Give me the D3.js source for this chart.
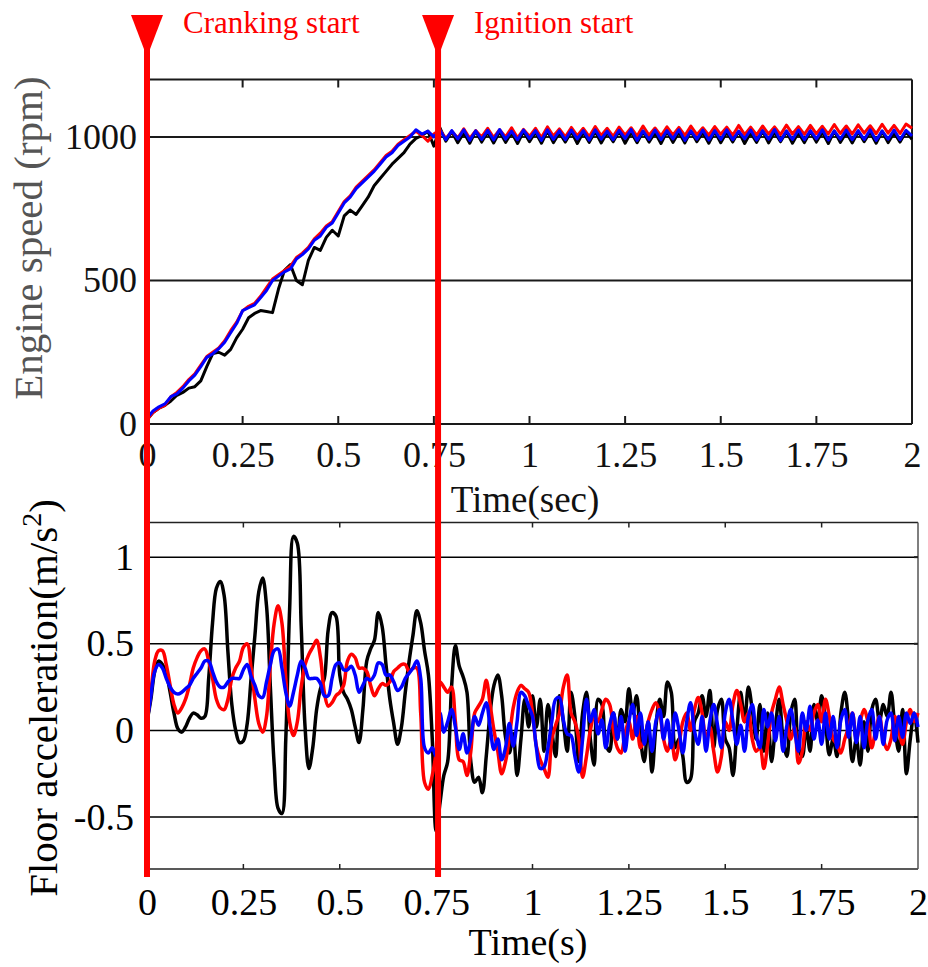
<!DOCTYPE html>
<html>
<head>
<meta charset="utf-8">
<script src="https://cdn.jsdelivr.net/npm/d3@7"></script>
<style>
  body { margin: 0; background: #fff; }
  svg { display: block; }
  svg text { font-family: "Liberation Serif", Tinos, "Times New Roman", Times, "DejaVu Serif", serif !important; }
</style>
</head>
<body>
<svg id="chart" width="928" height="967"></svg>
<script>
// ---------- data ----------
// Engine speed (rpm), sampled every 1/64 s from 0 to 2 s
const speedStep = 1 / 64;
const speedBlack = [
  15,40,55,65,80,100,110,125,130,150,
  200,245,250,240,260,300,330,370,385,395,
  392,388,470,535,555,500,485,570,615,605,
  650,675,655,725,745,730,760,790,830,855,
  880,905,925,945,975,995,1005,1020,968,
  1032,985,1018,980,1015,978,1020,982,1016,979,
  1018,981,1015,977,1019,983,1016,978,1020,980,
  1015,982,1018,977,1016,981,1019,979,1015,983,
  1020,978,1016,980,1018,982,1015,977,1019,981,
  1016,979,1020,983,1015,978,1018,980,1016,982,
  1019,977,1015,981,1020,979,1016,983,1018,978,
  1015,980,1019,982,1016,977,1020,981,1015,979,
  1018,983,1016,978,1019,980,1015,982,1018,992
];
const speedRed = [
  15,40,55,65,95,110,130,155,175,205,
  235,250,265,290,325,355,395,410,420,445,
  475,505,520,535,550,580,595,615,645,665,
  690,705,740,775,795,825,845,865,885,910,
  935,950,975,990,1005,1020,1005,985,1010,
  1025,995,1020,996,1028,995,1022,1000,1030,998,
  1025,1000,1032,997,1026,1002,1030,998,1035,1003,
  1028,1000,1033,1004,1030,1001,1036,1005,1030,1002,
  1034,1006,1032,1003,1038,1006,1031,1004,1035,1007,
  1033,1005,1038,1008,1032,1006,1036,1009,1034,1006,
  1040,1008,1034,1007,1038,1010,1035,1008,1041,1010,
  1036,1009,1040,1011,1037,1010,1043,1012,1038,1010,
  1042,1013,1039,1011,1044,1013,1040,1012,1045,1030
];
const speedBlue = [
  20,45,60,70,95,105,125,150,170,200,
  232,245,262,285,318,350,395,405,415,440,
  465,500,515,530,540,575,590,610,640,655,
  685,700,735,770,790,820,840,860,880,905,
  930,945,970,985,1000,1025,1010,1020,1000,
  1024,990,1022,993,1025,988,1021,991,1023,989,
  1026,992,1020,990,1024,994,1022,988,1025,991,
  1021,990,1024,993,1022,989,1025,992,1020,990,
  1023,994,1026,988,1021,991,1024,990,1022,993,
  1025,988,1021,992,1024,989,1022,991,1025,990,
  1020,993,1024,989,1022,992,1026,988,1021,991,
  1024,990,1022,993,1025,989,1021,992,1024,990,
  1022,991,1025,988,1021,992,1024,990,1023,1004
];

// Floor acceleration (m/s^2), sampled every 0.01 s from 0 to 2 s
const accStep = 0.01;
const accBlack = [
  0.05,0.18,0.34,0.40,0.38,0.33,0.22,0.10,0.01,-0.01,
  0.02,0.07,0.10,0.09,0.07,0.08,0.30,0.62,0.82,0.86,
  0.78,0.45,0.15,0.00,-0.07,-0.06,0.04,0.30,0.55,0.80,
  0.88,0.72,0.25,-0.20,-0.45,-0.48,-0.05,0.70,1.12,1.08,
  0.60,0.02,-0.22,-0.10,0.12,0.24,0.30,0.58,0.68,0.66,
  0.32,0.22,0.18,0.12,0.02,-0.07,0.12,0.40,0.47,0.52,
  0.68,0.60,0.38,0.18,0.04,-0.08,0.02,0.22,0.40,0.55,
  0.69,0.62,0.46,0.32,-0.05,-0.58,-0.42,-0.26,-0.18,0.25,
  0.49,0.37,0.31,0.22,-0.18,-0.30,-0.27,-0.36,-0.15,0.10,
  0.26,0.32,0.20,-0.04,-0.13,-0.02,-0.26,-0.05,0.18,0.02,
  0.20,0.02,0.18,-0.12,0.15,0.00,-0.15,0.20,0.05,-0.12,
  0.22,0.08,-0.18,0.10,0.22,-0.05,-0.20,0.18,0.15,-0.08,
  -0.12,0.10,-0.05,0.12,0.05,0.24,0.10,0.20,-0.05,-0.18,
  0.05,-0.24,0.02,0.18,0.08,0.28,0.22,-0.10,-0.05,-0.15,
  -0.30,-0.28,0.05,0.10,0.20,0.08,0.23,-0.10,0.12,0.18,
  -0.05,-0.10,-0.26,0.00,0.22,0.05,0.25,0.12,-0.05,0.15,
  -0.12,0.10,-0.18,0.02,0.18,-0.05,-0.15,0.10,0.18,-0.10,
  -0.15,0.02,-0.12,0.15,0.05,0.20,0.05,-0.14,-0.05,-0.15,
  0.10,0.22,0.05,-0.18,-0.05,-0.20,0.05,-0.12,0.12,0.18,
  0.05,0.15,0.08,0.22,0.02,-0.12,0.12,-0.25,-0.05,0.10,
  -0.07
];
const accRed = [
  0.05,0.22,0.40,0.46,0.46,0.38,0.26,0.15,0.10,0.13,
  0.18,0.26,0.36,0.42,0.46,0.47,0.40,0.30,0.18,0.13,
  0.12,0.18,0.30,0.36,0.40,0.48,0.50,0.36,0.18,0.04,
  -0.01,0.08,0.38,0.62,0.72,0.62,0.30,0.05,-0.03,0.05,
  0.25,0.38,0.44,0.48,0.52,0.42,0.22,0.14,0.16,0.20,
  0.22,0.26,0.40,0.44,0.42,0.36,0.36,0.34,0.26,0.20,
  0.24,0.27,0.26,0.28,0.34,0.36,0.38,0.38,0.34,0.36,
  0.36,0.10,-0.30,-0.34,-0.26,-0.12,0.28,0.25,0.22,0.25,
  0.05,-0.17,-0.18,-0.26,-0.12,0.10,0.14,0.18,0.29,0.15,
  0.00,-0.12,-0.25,-0.18,-0.04,0.13,0.22,0.26,0.24,0.22,
  0.10,-0.09,-0.17,-0.22,-0.27,-0.05,0.03,0.10,0.25,0.32,
  0.10,0.05,-0.05,-0.27,-0.15,0.00,0.08,0.05,0.12,0.18,
  0.15,0.00,-0.10,-0.13,-0.02,0.05,-0.05,0.08,-0.10,-0.05,
  0.05,0.12,0.16,0.10,-0.05,-0.12,-0.05,-0.17,-0.08,0.05,
  0.10,0.00,0.12,0.19,0.10,-0.05,0.02,-0.12,-0.24,-0.15,
  0.05,0.00,0.15,0.23,0.15,0.05,0.10,-0.05,-0.12,-0.10,
  -0.22,-0.08,0.10,0.18,0.25,0.15,0.05,-0.05,0.02,-0.19,
  -0.12,0.05,0.00,0.10,0.15,0.05,0.18,0.08,-0.05,-0.08,
  -0.13,-0.05,0.02,0.10,-0.05,0.05,0.12,0.05,-0.10,0.00,
  0.08,-0.05,-0.11,-0.05,0.08,0.00,-0.08,0.05,0.12,0.05,
  0.10
];
const accBlue = [
  0.05,0.20,0.34,0.38,0.36,0.30,0.25,0.22,0.21,0.22,
  0.24,0.26,0.30,0.33,0.36,0.40,0.40,0.34,0.28,0.25,
  0.25,0.28,0.30,0.30,0.30,0.35,0.38,0.31,0.26,0.20,
  0.19,0.28,0.38,0.46,0.47,0.36,0.22,0.14,0.22,0.32,
  0.40,0.36,0.30,0.30,0.30,0.27,0.20,0.20,0.30,0.38,
  0.39,0.35,0.35,0.37,0.32,0.22,0.26,0.30,0.29,0.32,
  0.39,0.38,0.32,0.32,0.28,0.23,0.25,0.30,0.33,0.36,
  0.40,0.30,-0.10,-0.13,-0.10,-0.15,0.10,-0.01,0.05,0.12,
  0.02,-0.11,-0.02,-0.13,-0.05,0.08,0.03,0.10,0.16,0.02,
  -0.11,-0.05,-0.17,-0.10,0.04,-0.09,0.05,0.22,0.20,0.14,
  0.08,-0.10,-0.22,-0.21,-0.10,0.05,0.18,0.19,0.06,-0.02,
  -0.03,-0.15,-0.24,-0.05,0.18,0.05,0.12,-0.02,0.06,-0.10,
  0.03,0.10,-0.05,0.08,-0.12,0.05,0.15,-0.03,0.10,-0.08,
  0.05,-0.12,0.05,0.12,-0.05,0.06,-0.10,0.10,0.00,-0.13,
  0.05,0.16,0.00,-0.08,0.08,-0.12,0.05,0.15,0.03,-0.10,
  0.10,0.18,0.05,-0.08,0.03,-0.12,0.08,0.15,-0.02,-0.10,
  0.12,0.02,0.10,-0.06,0.08,-0.12,0.03,0.12,0.00,-0.12,
  0.10,0.00,0.14,-0.05,0.06,-0.08,0.10,-0.05,0.08,-0.10,
  0.06,0.12,-0.04,0.10,-0.07,0.08,-0.10,0.06,0.12,-0.05,
  0.08,-0.08,0.06,0.10,-0.06,0.08,-0.04,0.10,0.04,0.10,
  0.02
];

// Axis ticks
const timeTicks = [0, 0.25, 0.5, 0.75, 1, 1.25, 1.5, 1.75, 2];
const timeTickLabels = ["0", "0.25", "0.5", "0.75", "1", "1.25", "1.5", "1.75", "2"];
const speedTicks = [0, 500, 1000];
const speedTickLabels = ["0", "500", "1000"];
const accTicks = [-0.5, 0, 0.5, 1];
const accTickLabels = ["-0.5", "0", "0.5", "1"];

// Event markers (s)
const eventTimes = [0, 0.755];
const eventLabels = ["Cranking start", "Ignition start"];

const seriesColors = ["#000000", "#ff0000", "#0000ff"];
const serifFont = '"Liberation Serif", Tinos, "Times New Roman", Times, "DejaVu Serif", serif';

// ---------- drawing ----------
const svg = d3.select("#chart").attr("font-family", serifFont);

// Upper panel: engine speed
const x1 = d3.scaleLinear().domain([0, 2]).range([147, 912]);
const y1 = d3.scaleLinear().domain([0, 1200]).range([424, 79.5]);

const speedPanel = svg.append("g");

// horizontal grid lines and frame
speedPanel.selectAll("line.grid").data([500, 1000]).join("line")
  .attr("x1", x1(0)).attr("x2", x1(2))
  .attr("y1", d => y1(d)).attr("y2", d => y1(d))
  .attr("stroke", "#1a1a1a").attr("stroke-width", 2);
[0, 1200].forEach(v => {
  speedPanel.append("line").attr("x1", x1(0)).attr("x2", x1(2))
    .attr("y1", y1(v)).attr("y2", y1(v))
    .attr("stroke", "#1a1a1a").attr("stroke-width", 2);
});
[0, 2].forEach(t => {
  speedPanel.append("line").attr("x1", x1(t)).attr("x2", x1(t))
    .attr("y1", y1(1200)).attr("y2", y1(0))
    .attr("stroke", "#1a1a1a").attr("stroke-width", 2);
});

// inward tick marks at top and bottom
const innerTimeTicks = timeTicks.slice(1, -1);
speedPanel.selectAll("line.tt").data(innerTimeTicks).join("line")
  .attr("x1", d => x1(d)).attr("x2", d => x1(d))
  .attr("y1", y1(1200)).attr("y2", y1(1200) + 8)
  .attr("stroke", "#1a1a1a").attr("stroke-width", 2);
speedPanel.selectAll("line.tb").data(innerTimeTicks).join("line")
  .attr("x1", d => x1(d)).attr("x2", d => x1(d))
  .attr("y1", y1(0)).attr("y2", y1(0) - 8)
  .attr("stroke", "#1a1a1a").attr("stroke-width", 2);

// tick labels via d3 axes
const ax1 = speedPanel.append("g").attr("transform", `translate(0,${y1(0)})`)
  .call(d3.axisBottom(x1).tickValues(timeTicks)
    .tickFormat((d, i) => timeTickLabels[i]).tickSize(0).tickPadding(17));
const ay1 = speedPanel.append("g").attr("transform", `translate(${x1(0)},0)`)
  .call(d3.axisLeft(y1).tickValues(speedTicks)
    .tickFormat((d, i) => speedTickLabels[i]).tickSize(0).tickPadding(10));
[ax1, ay1].forEach(g => {
  g.attr("font-family", serifFont).attr("font-size", 36);
  g.select(".domain").remove();
  g.selectAll("text").attr("fill", "#111");
});

const speedLine = d3.line()
  .x((d, i) => x1(i * speedStep))
  .y(d => y1(d));
[speedBlack, speedRed, speedBlue].forEach((s, k) => {
  speedPanel.append("path").datum(s)
    .attr("d", speedLine)
    .attr("fill", "none").attr("stroke", seriesColors[k])
    .attr("stroke-width", 3).attr("stroke-linejoin", "round");
});

speedPanel.append("text")
  .attr("x", 525).attr("y", 512).attr("text-anchor", "middle")
  .attr("font-size", 37).attr("fill", "#111").text("Time(sec)");
speedPanel.append("text")
  .attr("transform", "translate(42,238) rotate(-90)")
  .attr("text-anchor", "middle").attr("font-size", 41).attr("fill", "#555")
  .text("Engine speed (rpm)");

// Lower panel: floor acceleration
const x2 = d3.scaleLinear().domain([0, 2]).range([147, 918]);
const y2 = d3.scaleLinear().domain([-0.8, 1.2]).range([869, 522.5]);

const accPanel = svg.append("g");
accPanel.selectAll("line.grid").data(accTicks).join("line")
  .attr("x1", x2(0)).attr("x2", x2(2))
  .attr("y1", d => y2(d)).attr("y2", d => y2(d))
  .attr("stroke", "#000").attr("stroke-width", 1.5);
[1.2, -0.8].forEach(v => {
  accPanel.append("line").attr("x1", x2(0)).attr("x2", x2(2))
    .attr("y1", y2(v)).attr("y2", y2(v))
    .attr("stroke", "#222").attr("stroke-width", 1.5);
});
accPanel.append("line").attr("x1", x2(2)).attr("x2", x2(2))
  .attr("y1", y2(1.2)).attr("y2", y2(-0.8))
  .attr("stroke", "#555").attr("stroke-width", 1.5);
accPanel.append("line").attr("x1", x2(0)).attr("x2", x2(0))
  .attr("y1", y2(1.2)).attr("y2", y2(-0.8))
  .attr("stroke", "#222").attr("stroke-width", 1.5);

accPanel.selectAll("line.tt").data(innerTimeTicks).join("line")
  .attr("x1", d => x2(d)).attr("x2", d => x2(d))
  .attr("y1", y2(1.2)).attr("y2", y2(1.2) + 5)
  .attr("stroke", "#222").attr("stroke-width", 1.5);
accPanel.selectAll("line.tb").data(innerTimeTicks).join("line")
  .attr("x1", d => x2(d)).attr("x2", d => x2(d))
  .attr("y1", y2(-0.8)).attr("y2", y2(-0.8) - 5)
  .attr("stroke", "#222").attr("stroke-width", 1.5);
accPanel.selectAll("line.tr").data(accTicks).join("line")
  .attr("x1", x2(2)).attr("x2", x2(2) - 4)
  .attr("y1", d => y2(d)).attr("y2", d => y2(d))
  .attr("stroke", "#222").attr("stroke-width", 2);

const ax2 = accPanel.append("g").attr("transform", `translate(0,${y2(-0.8)})`)
  .call(d3.axisBottom(x2).tickValues(timeTicks)
    .tickFormat((d, i) => timeTickLabels[i]).tickSize(0).tickPadding(19));
const ay2 = accPanel.append("g").attr("transform", `translate(${x2(0)},0)`)
  .call(d3.axisLeft(y2).tickValues(accTicks)
    .tickFormat((d, i) => accTickLabels[i]).tickSize(0).tickPadding(13));
[ax2, ay2].forEach(g => {
  g.attr("font-family", serifFont).attr("font-size", 38);
  g.select(".domain").remove();
  g.selectAll("text").attr("fill", "#000");
});

const accLine = d3.line()
  .x((d, i) => x2(i * accStep))
  .y(d => y2(d))
  .curve(d3.curveCatmullRom.alpha(0.5));
[accBlack, accRed, accBlue].forEach((s, k) => {
  accPanel.append("path").datum(s)
    .attr("d", accLine)
    .attr("fill", "none").attr("stroke", seriesColors[k])
    .attr("stroke-width", 3.5).attr("stroke-linejoin", "round");
});

accPanel.append("text")
  .attr("x", 528).attr("y", 955).attr("text-anchor", "middle")
  .attr("font-size", 38).attr("fill", "#000").text("Time(s)");
const accLabel = accPanel.append("text")
  .attr("transform", "translate(57,698) rotate(-90)")
  .attr("text-anchor", "middle").attr("font-size", 41).attr("fill", "#000");
accLabel.append("tspan").text("Floor acceleration(m/s");
accLabel.append("tspan").attr("font-size", 28).attr("dy", -16).text("2");
accLabel.append("tspan").attr("dy", 16).text(")");

// Event markers spanning both panels
const eventLayer = svg.append("g");
eventTimes.forEach((t, i) => {
  const x = x2(t);
  eventLayer.append("line").attr("x1", x).attr("x2", x)
    .attr("y1", 15).attr("y2", 877)
    .attr("stroke", "#ff0000").attr("stroke-width", 6);
  eventLayer.append("path")
    .attr("d", `M${x - 16},15 L${x + 16},15 L${x},57 Z`)
    .attr("fill", "#ff0000");
  eventLayer.append("text").attr("x", x + 36).attr("y", 33)
    .attr("font-size", 31).attr("fill", "#ff0000").text(eventLabels[i]);
});
</script>
</body>
</html>
